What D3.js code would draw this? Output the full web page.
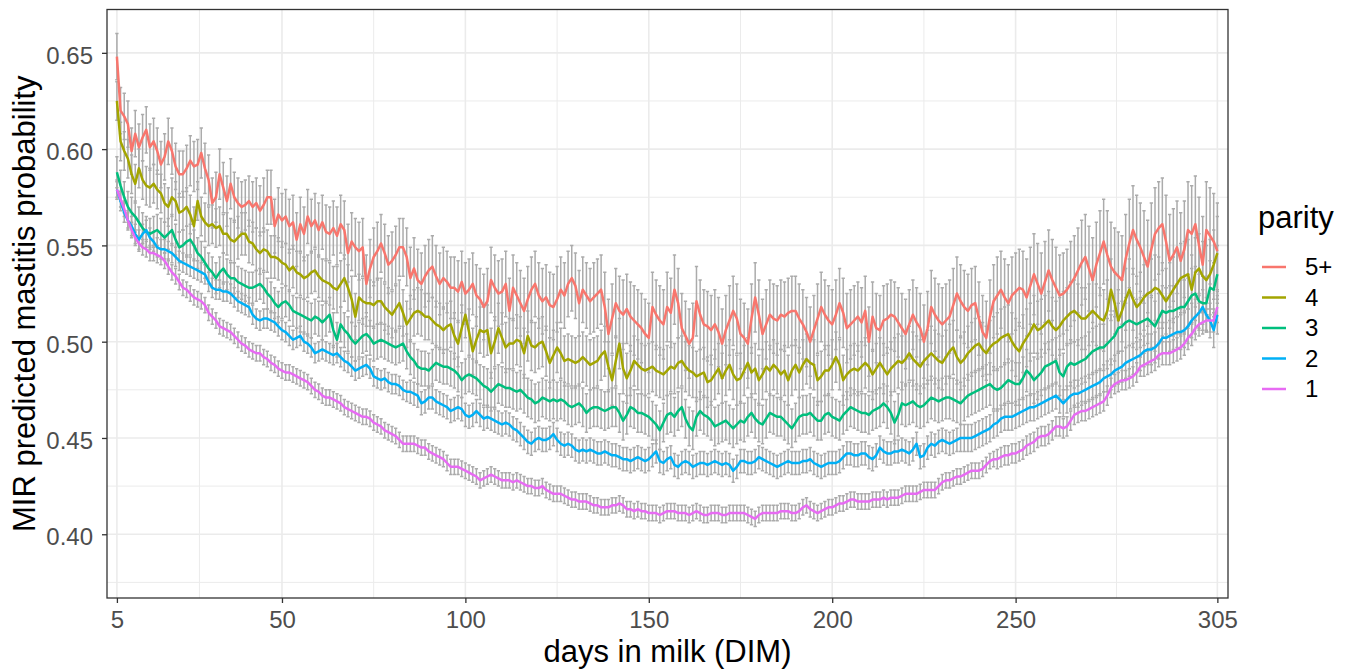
<!DOCTYPE html>
<html>
<head>
<meta charset="utf-8">
<script src="https://cdn.jsdelivr.net/npm/d3@7"></script>
<style>
body { margin: 0; background: #fff; }
svg { display: block; font-family: "Liberation Sans", Arial, sans-serif; }
</style>
</head>
<body>
<svg id="chart" width="1350" height="671"></svg>
<script>

//------------------------------------------------------------------------------
// Data

var days = d3.range(5, 306);
var parityLevels = ['5+', '4', '3', '2', '1'];
var parityColors = ['#F8766D', '#A3A500', '#00BF7D', '#00B0F6', '#E76BF3'];
var xTicks = [5, 50, 100, 150, 200, 250, 305];
var xMinor = [27.5, 75, 125, 175, 225, 277.5];
var yTicks = [0.40, 0.45, 0.50, 0.55, 0.60, 0.65];
var yMinor = [0.375, 0.425, 0.475, 0.525, 0.575, 0.625];

// predicted probability x 1000, one value per day (5..305)
var prob5 = [
	648,620,617,613,599,608,601,606,610,601, 604,599,592,596,604,599,591,587,587,590,
	594,591,592,598,590,584,572,575,587,580, 573,582,575,572,570,571,573,570,572,568,
	571,575,575,560,566,563,565,560,562,553, 561,556,565,560,563,558,562,557,556,559,
	555,561,558,546,552,549,547,549,530,538, 544,547,551,546,540,542,545,549,549,544,
	533,538,532,530,534,537,539,534,530,533, 531,528,528,526,531,525,527,530,524,522,
	518,521,532,528,525,526,530,516,528,524, 520,516,522,527,530,524,521,523,519,518,
	522,527,524,530,533,529,520,527,524,521, 523,525,527,518,504,512,520,516,514,517,
	513,511,509,507,504,502,518,514,511,509, 518,515,527,520,507,503,499,502,521,514,
	509,508,506,509,505,499,506,511,516,512, 504,502,499,512,523,514,504,509,514,512,
	511,514,513,515,516,516,512,509,505,500, 506,512,518,514,511,509,514,520,515,507,
	509,511,513,510,516,500,513,507,506,511, 512,514,513,510,507,504,509,514,510,507,
	500,507,518,514,511,509,511,513,519,525, 521,518,516,519,520,512,505,502,513,521,
	524,527,523,520,524,526,528,527,523,529, 535,530,525,531,537,532,528,524,525,527,
	530,533,537,541,544,538,532,540,546,552, 545,539,536,534,532,543,551,558,553,549,
	544,539,548,556,559,561,552,542,545,549, 542,548,558,556,561,550,540,558,555,552,
	547
];
var prob4 = [
	625,604,599,595,587,582,590,584,581,580, 582,579,577,572,570,575,573,567,568,570,
	566,560,573,565,562,560,561,559,560,556, 556,553,552,554,556,556,552,551,548,546,
	548,547,544,544,543,541,540,537,539,536, 535,533,534,536,537,534,532,531,530,528,
	527,530,533,528,522,513,523,521,520,520, 519,521,521,518,516,514,517,520,515,509,
	512,515,516,515,513,513,511,509,508,506, 508,509,503,499,507,514,505,495,501,506,
	505,506,494,500,507,502,497,499,499,501, 500,494,503,498,497,499,500,495,489,493,
	497,494,490,491,490,489,490,492,490,488, 489,490,493,495,487,480,490,499,486,481,
	485,490,488,486,485,486,487,485,484,483, 485,487,486,489,490,487,485,484,482,483,
	484,479,480,483,486,481,485,488,483,480, 481,485,489,484,486,480,483,487,485,488,
	486,483,485,480,485,488,484,488,491,489, 488,480,482,485,485,488,492,488,480,483,
	485,486,485,487,489,487,483,486,489,486, 483,486,488,490,489,491,494,491,489,487,
	490,492,494,492,490,489,492,495,497,492, 489,491,494,496,498,499,496,494,497,499,
	500,502,503,504,500,497,495,499,502,505, 509,506,507,509,511,508,506,508,511,513,
	515,516,514,512,512,514,516,514,512,511, 516,527,520,511,516,522,527,522,518,520,
	523,525,526,528,527,524,521,524,527,530, 533,534,535,527,536,538,534,532,535,540,
	546
];
var prob3 = [
	588,581,575,570,567,565,562,559,557,556, 557,558,556,554,556,558,553,549,550,552,
	553,550,546,544,541,538,536,533,536,538, 535,533,533,531,530,529,528,528,529,530,
	528,525,523,520,518,520,521,519,516,515, 514,513,512,511,513,512,510,512,514,506,
	501,509,506,504,501,499,501,503,504,502, 499,500,501,500,499,498,497,498,499,495,
	492,490,487,486,486,485,487,489,488,487, 487,486,485,483,480,482,483,482,481,479,
	477,476,474,476,478,477,476,476,475,474, 475,473,471,470,468,469,471,470,469,470,
	469,470,469,467,466,467,468,466,463,465, 466,466,465,464,465,466,466,463,459,462,
	466,465,463,463,462,461,459,457,454,458, 462,463,461,464,466,460,456,454,461,464,
	462,461,459,456,457,458,459,457,455,457, 459,458,461,463,460,458,457,460,463,462,
	461,461,459,457,455,458,461,462,462,463, 461,459,459,462,463,461,460,459,462,464,
	466,465,464,463,463,462,464,465,466,468, 466,463,458,462,468,467,468,469,467,466,
	467,469,471,470,469,470,471,471,470,469, 468,470,472,473,474,475,476,477,478,476,
	475,476,478,480,479,478,478,481,485,483, 480,482,484,487,488,489,490,484,482,487,
	489,488,489,490,491,493,495,496,497,497, 499,501,503,507,508,510,511,510,509,510,
	511,512,510,508,512,516,515,516,516,517, 518,518,521,524,525,521,520,520,528,527,
	535
];
var prob2 = [
	579,573,567,563,560,556,553,556,558,554, 552,549,548,548,547,546,544,542,541,540,
	539,538,537,536,535,531,528,527,527,526, 526,525,523,521,520,519,518,514,512,511,
	512,512,511,510,508,506,505,503,501,502, 503,500,499,497,494,495,496,495,494,493,
	494,492,490,489,487,485,486,487,488,486, 482,481,480,481,479,478,478,477,475,474,
	474,473,472,468,469,471,471,469,468,467, 466,464,465,466,465,462,461,462,464,462,
	460,461,460,459,458,457,458,457,455,454, 452,450,448,447,449,450,449,449,450,452,
	449,447,446,447,446,444,443,444,443,444, 443,442,442,443,442,441,441,440,439,439,
	438,439,440,439,438,439,441,443,438,437, 439,440,436,435,437,438,437,435,436,437,
	437,436,437,438,437,436,437,436,433,435, 438,438,437,437,438,440,439,438,437,436,
	435,436,437,438,437,437,437,438,438,439, 437,436,435,436,437,437,437,438,440,442,
	442,441,441,442,442,440,439,441,445,443, 442,442,443,443,444,443,442,444,447,440,
	441,445,447,446,448,449,448,447,448,449, 450,450,450,450,451,452,453,454,455,457,
	458,460,461,461,461,462,463,464,465,466, 466,467,468,469,470,471,472,470,468,470,
	472,473,473,474,475,476,477,478,479,481, 482,483,485,486,487,489,490,491,492,493,
	495,496,496,497,499,502,502,503,504,505, 505,506,508,511,513,515,518,514,511,506,
	514
];
var prob1 = [
	579,574,569,563,558,554,551,549,548,546, 546,545,544,542,539,536,534,531,528,527,
	525,523,522,521,519,515,513,511,508,507, 506,505,503,501,499,498,496,495,494,494,
	492,491,489,488,486,485,484,484,483,482, 481,480,479,477,475,474,472,471,471,470,
	469,468,466,465,464,463,462,461,461,460, 458,457,456,454,453,452,451,449,447,447,
	447,447,446,445,445,443,442,441,440,439, 437,435,435,435,434,433,432,431,430,428,
	429,430,431,430,429,428,428,428,427,428, 427,426,425,425,424,424,425,423,422,421,
	421,421,420,419,418,418,417,417,417,416, 415,415,414,414,414,415,415,416,415,413,
	413,412,413,412,412,411,411,411,410,411, 412,412,412,411,411,411,410,411,412,411,
	410,410,411,411,411,410,410,411,411,411, 411,411,410,409,408,410,411,411,411,411,
	411,412,412,412,411,411,412,414,415,413, 412,411,412,413,414,414,415,416,416,417,
	418,418,417,417,417,417,418,418,418,419, 418,419,419,419,420,421,421,421,421,422,
	423,423,423,423,425,427,428,428,429,430, 430,431,432,433,433,433,434,436,438,439,
	439,440,441,441,442,442,443,444,446,447, 448,450,451,451,452,454,456,456,455,456,
	459,462,463,464,464,465,466,467,468,469, 472,476,478,479,480,480,481,482,484,487,
	488,489,490,491,493,494,494,494,495,496, 497,499,502,504,507,509,510,511,511,511,
	518
];

// error bar half-width x 1000, one value per 10-day block
var se5 = [12,12,13,13,14,14,15,15,16,16,17,17,17,18,18,18,18,18,18,18,18,18,19,19,20,21,22,23,24,25,25];
var se4 = [10,10,10,11,11,11,12,12,12,12,13,13,13,13,13,13,13,13,13,13,13,14,14,14,15,15,16,16,17,18,19];
var se3 = [8,8,8,8,8,9,9,9,9,9,10,10,10,10,10,10,10,10,10,10,10,11,11,11,11,12,12,13,13,14,15];
var se2 = [5,5,5,5,5,5,5,5,6,6,6,6,6,6,6,6,6,6,6,6,6,6,6,7,7,7,7,8,8,9,10];
var se1 = [4,4,4,4,4,4,4,4,4,4,4,4,4,4,4,4,4,4,4,4,4,4,4,4,5,5,5,5,6,6,8];

var probs = [prob5, prob4, prob3, prob2, prob1];
var ses = [se5, se4, se3, se2, se1];

var series = parityLevels.map(function (level, i) {
	return {
		level: level,
		color: parityColors[i],
		values: days.map(function (d, j) {
			return { day: d, p: probs[i][j] / 1000, se: ses[i][Math.floor(j / 10)] / 1000 };
		})
	};
});

//------------------------------------------------------------------------------
// Scales

var panel = { left: 107, right: 1228, top: 9.5, bottom: 598 };

var x = d3.scaleLinear().domain([2.3, 307.9]).range([panel.left, panel.right]);
var y = d3.scaleLinear().domain([0.3669, 0.6725]).range([panel.bottom, panel.top]);

var svg = d3.select('#chart');

//------------------------------------------------------------------------------
// Grid

var grid = svg.append('g').attr('class', 'grid');

grid.selectAll('.xminor').data(xMinor).enter().append('line')
	.attr('x1', x).attr('x2', x)
	.attr('y1', panel.top).attr('y2', panel.bottom)
	.attr('stroke', '#EBEBEB').attr('stroke-width', 1);
grid.selectAll('.yminor').data(yMinor).enter().append('line')
	.attr('y1', y).attr('y2', y)
	.attr('x1', panel.left).attr('x2', panel.right)
	.attr('stroke', '#EBEBEB').attr('stroke-width', 1);
grid.selectAll('.xmajor').data(xTicks).enter().append('line')
	.attr('x1', x).attr('x2', x)
	.attr('y1', panel.top).attr('y2', panel.bottom)
	.attr('stroke', '#EBEBEB').attr('stroke-width', 1.6);
grid.selectAll('.ymajor').data(yTicks).enter().append('line')
	.attr('y1', y).attr('y2', y)
	.attr('x1', panel.left).attr('x2', panel.right)
	.attr('stroke', '#EBEBEB').attr('stroke-width', 1.6);

//------------------------------------------------------------------------------
// Error bars and lines

function errorPath(values)
{
	var w = 0.45;
	return values.map(function (d) {
		var lo = y(d.p - d.se), hi = y(d.p + d.se);
		return 'M' + x(d.day) + ',' + lo + 'V' + hi +
			'M' + x(d.day - w) + ',' + lo + 'H' + x(d.day + w) +
			'M' + x(d.day - w) + ',' + hi + 'H' + x(d.day + w);
	}).join('');
}

svg.append('g').attr('class', 'errorbars')
	.selectAll('path').data(series).enter().append('path')
	.attr('d', function (s) { return errorPath(s.values); })
	.attr('fill', 'none')
	.attr('stroke', '#ABABAB')
	.attr('stroke-width', 1.5);

var line = d3.line()
	.x(function (d) { return x(d.day); })
	.y(function (d) { return y(d.p); });

svg.append('g').attr('class', 'lines')
	.selectAll('path').data(series).enter().append('path')
	.attr('d', function (s) { return line(s.values); })
	.attr('fill', 'none')
	.attr('stroke', function (s) { return s.color; })
	.attr('stroke-width', 2.5)
	.attr('stroke-linejoin', 'round');

svg.append('rect')
	.attr('x', panel.left).attr('y', panel.top)
	.attr('width', panel.right - panel.left)
	.attr('height', panel.bottom - panel.top)
	.attr('fill', 'none')
	.attr('stroke', '#333333')
	.attr('stroke-width', 1.3);

//------------------------------------------------------------------------------
// Axes

var xAxis = svg.append('g')
	.attr('transform', 'translate(0,' + panel.bottom + ')')
	.call(d3.axisBottom(x).tickValues(xTicks).tickSize(5).tickPadding(8).tickFormat(d3.format('d')));
var yAxis = svg.append('g')
	.attr('transform', 'translate(' + panel.left + ',0)')
	.call(d3.axisLeft(y).tickValues(yTicks).tickSize(5).tickPadding(9).tickFormat(d3.format('.2f')));

[xAxis, yAxis].forEach(function (a) {
	a.select('.domain').remove();
	a.selectAll('.tick line').attr('stroke', '#333333').attr('stroke-width', 1.3);
	a.selectAll('.tick text')
		.attr('fill', '#4D4D4D')
		.style('font-size', '24px')
		.style('font-family', '"Liberation Sans", Arial, sans-serif');
});
yAxis.selectAll('.tick text').attr('dy', '0.43em');

svg.append('text')
	.attr('x', (panel.left + panel.right) / 2)
	.attr('y', 662)
	.attr('text-anchor', 'middle')
	.style('font-size', '31px')
	.text('days in milk (DIM)');

svg.append('text')
	.attr('transform', 'translate(35,' + (panel.top + panel.bottom) / 2 + ') rotate(-90)')
	.attr('text-anchor', 'middle')
	.style('font-size', '31px')
	.text('MIR predicted mastitis probability');

//------------------------------------------------------------------------------
// Legend

var legend = svg.append('g').attr('class', 'legend');

legend.append('text')
	.attr('x', 1258).attr('y', 228)
	.style('font-size', '31px')
	.text('parity');

var keys = legend.selectAll('.key').data(series).enter().append('g')
	.attr('transform', function (s, i) { return 'translate(0,' + (267 + i * 30.5) + ')'; });
keys.append('line')
	.attr('x1', 1262).attr('x2', 1286)
	.attr('stroke', function (s) { return s.color; })
	.attr('stroke-width', 2.5);
keys.append('text')
	.attr('x', 1305).attr('dy', '0.35em')
	.style('font-size', '24px')
	.text(function (s) { return s.level; });

</script>
</body>
</html>
